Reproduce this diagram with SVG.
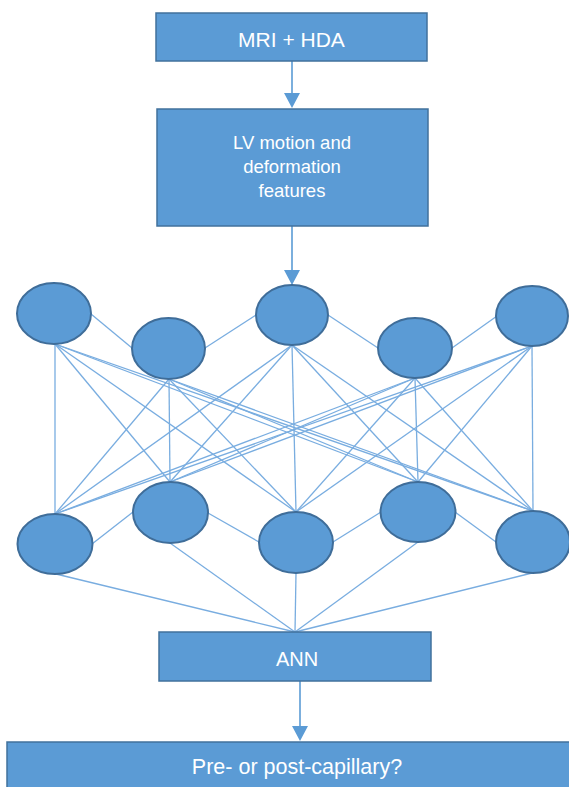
<svg xmlns="http://www.w3.org/2000/svg" width="569" height="787" viewBox="0 0 569 787">
<style>
.box{fill:#5b9bd5;stroke:#41719c;stroke-width:1.5}
.node{fill:#5b9bd5;stroke:#3f6d99;stroke-width:2}
.txt{fill:#ffffff;font-family:"Liberation Sans",Arial,sans-serif;text-anchor:middle}
.ln{stroke:#79ade0;stroke-width:1.3;fill:none}
.arr{stroke:#5b9bd5;stroke-width:1.6;fill:none}
.head{fill:#5b9bd5}
</style>
<rect width="569" height="787" fill="#ffffff"/>
<g id="connectors">
  <!-- arrows -->
  <line class="arr" x1="292" y1="61" x2="292" y2="95"/>
  <polygon class="head" points="284,93 300,93 292,108"/>
  <line class="arr" x1="292" y1="226" x2="292" y2="272"/>
  <polygon class="head" points="284,270 300,270 292,285"/>
  <line class="arr" x1="300" y1="681" x2="300" y2="728"/>
  <polygon class="head" points="292,726 308,726 300,741"/>
  <!-- lateral top -->
  <line class="ln" x1="91" y1="314" x2="132" y2="348"/>
  <line class="ln" x1="205" y1="348" x2="256" y2="315"/>
  <line class="ln" x1="328" y1="315" x2="378" y2="348"/>
  <line class="ln" x1="452" y1="348" x2="497" y2="316"/>
  <!-- lateral bottom -->
  <line class="ln" x1="92" y1="544" x2="133" y2="512"/>
  <line class="ln" x1="208" y1="513" x2="259" y2="542"/>
  <line class="ln" x1="333" y1="542" x2="381" y2="512"/>
  <line class="ln" x1="455" y1="512" x2="496" y2="542"/>
  <!-- full bipartite top->bottom -->
  <g class="ln">
    <line x1="55" y1="344" x2="55" y2="514"/>
    <line x1="55" y1="344" x2="170" y2="482"/>
    <line x1="55" y1="344" x2="296" y2="512"/>
    <line x1="55" y1="344" x2="418" y2="482"/>
    <line x1="55" y1="344" x2="533" y2="511"/>
    <line x1="169" y1="379" x2="55" y2="514"/>
    <line x1="169" y1="379" x2="170" y2="482"/>
    <line x1="169" y1="379" x2="296" y2="512"/>
    <line x1="169" y1="379" x2="418" y2="482"/>
    <line x1="169" y1="379" x2="533" y2="511"/>
    <line x1="292" y1="345" x2="55" y2="514"/>
    <line x1="292" y1="345" x2="170" y2="482"/>
    <line x1="292" y1="345" x2="296" y2="512"/>
    <line x1="292" y1="345" x2="418" y2="482"/>
    <line x1="292" y1="345" x2="533" y2="511"/>
    <line x1="415" y1="378" x2="55" y2="514"/>
    <line x1="415" y1="378" x2="170" y2="482"/>
    <line x1="415" y1="378" x2="296" y2="512"/>
    <line x1="415" y1="378" x2="418" y2="482"/>
    <line x1="415" y1="378" x2="533" y2="511"/>
    <line x1="532" y1="346" x2="55" y2="514"/>
    <line x1="532" y1="346" x2="170" y2="482"/>
    <line x1="532" y1="346" x2="296" y2="512"/>
    <line x1="532" y1="346" x2="418" y2="482"/>
    <line x1="532" y1="346" x2="533" y2="511"/>
  </g>
  <!-- bottom -> ANN -->
  <g class="ln">
    <line x1="56" y1="574" x2="295" y2="632"/>
    <line x1="170" y1="543" x2="295" y2="632"/>
    <line x1="296" y1="573" x2="295" y2="632"/>
    <line x1="418" y1="542" x2="295" y2="632"/>
    <line x1="532" y1="573" x2="295" y2="632"/>
  </g>
</g>
<g id="box-mri">
  <rect class="box" x="156" y="13" width="271" height="48"/>
  <text class="txt" x="291.5" y="47" font-size="21">MRI + HDA</text>
</g>
<g id="box-lv">
  <rect class="box" x="157" y="109" width="271" height="117"/>
  <text class="txt" x="292" y="149" font-size="18.5">LV motion and</text>
  <text class="txt" x="292" y="173" font-size="18.5">deformation</text>
  <text class="txt" x="292" y="197" font-size="18.5">features</text>
</g>
<g id="top-1"><ellipse class="node" cx="54" cy="313.5" rx="37" ry="30.5"/></g>
<g id="top-2"><ellipse class="node" cx="168.5" cy="348.5" rx="36.5" ry="30.5"/></g>
<g id="top-3"><ellipse class="node" cx="292" cy="315" rx="36" ry="30"/></g>
<g id="top-4"><ellipse class="node" cx="415" cy="348" rx="37" ry="30"/></g>
<g id="top-5"><ellipse class="node" cx="532" cy="316" rx="36" ry="30"/></g>
<g id="bot-1"><ellipse class="node" cx="55" cy="544" rx="37.5" ry="30"/></g>
<g id="bot-2"><ellipse class="node" cx="170.5" cy="512.5" rx="37.5" ry="30.5"/></g>
<g id="bot-3"><ellipse class="node" cx="296" cy="542.5" rx="37" ry="30.5"/></g>
<g id="bot-4"><ellipse class="node" cx="418" cy="512" rx="37.5" ry="30"/></g>
<g id="bot-5"><ellipse class="node" cx="533" cy="542" rx="37" ry="31"/></g>
<g id="box-ann">
  <rect class="box" x="159" y="632" width="272" height="49"/>
  <text class="txt" x="297" y="666" font-size="20">ANN</text>
</g>
<g id="box-result">
  <rect class="box" x="7" y="742" width="600" height="100"/>
  <text class="txt" x="297" y="774" font-size="21.5">Pre- or post-capillary?</text>
</g>
</svg>
